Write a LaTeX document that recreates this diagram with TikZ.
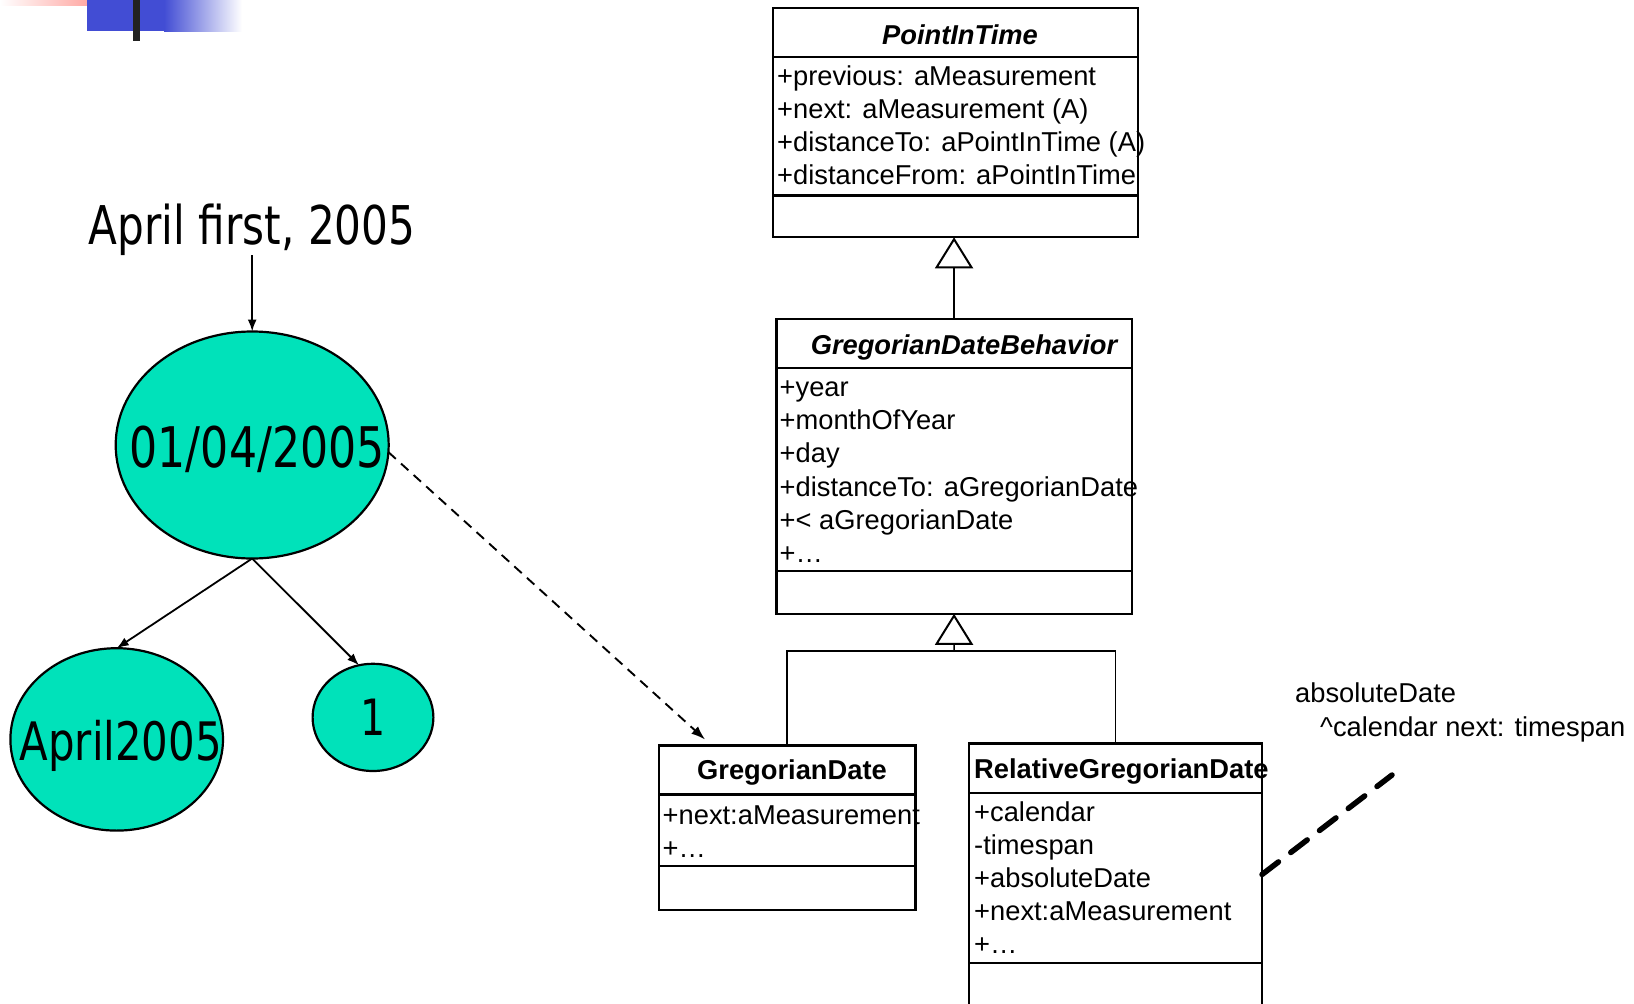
\documentclass[tikz,border=0pt]{standalone}
\usepackage{fontspec}
\usetikzlibrary{arrows.meta,shapes.geometric,calc}

\newfontfamily\umlfont{Liberation Sans}
\newfontfamily\bigfont[FakeStretch=0.79]{DejaVu Sans}

\definecolor{nodeteal}{RGB}{0,226,186}
\definecolor{slideblue}{RGB}{66,77,212}
\definecolor{slidepink}{RGB}{255,140,134}
\definecolor{slidebar}{RGB}{34,34,34}

\tikzset{
  umlbox/.style={draw=black, line width=2.2pt, rectangle, inner sep=0pt, outer sep=0pt, anchor=north west},
  sepline/.style={draw=black, line width=2.2pt},
  umltext/.style={inner sep=0pt, anchor=base west, font=\umlfont\fontsize{27.3}{33}\selectfont},
  umltitle/.style={inner sep=0pt, anchor=base, font=\umlfont\bfseries\fontsize{27.3}{33}\selectfont},
  abstitle/.style={inner sep=0pt, anchor=base, font=\umlfont\bfseries\itshape\fontsize{27.3}{33}\selectfont},
  genline/.style={draw=black, line width=1.4pt},
  genarrow/.style={genline, -{Triangle[open, length=31pt, width=38pt, line width=2pt]}},
  tealnode/.style={ellipse, draw=black, fill=nodeteal, line width=2.2pt, inner sep=0pt, outer sep=0pt},
  bigtext/.style={inner sep=0pt},
  arr/.style={draw=black, line width=1.8pt, -{Latex[length=12pt, width=9pt]}},
  dasharr/.style={draw=black, line width=1.9pt, dash pattern=on 10pt off 7pt, -{Latex[length=14pt, width=10pt]}},
  notelink/.style={draw=black, line width=5.5pt, dash pattern=on 20.7pt off 15.5pt, line cap=round},
}

\begin{document}
\begin{tikzpicture}[x=1pt, y=-1pt]
\useasboundingbox (0,0) rectangle (1634,1004);
\fill[white] (0,0) rectangle (1634,1004);

% slide ornament in the corner
\shade[left color=white, right color=slidepink] (0,0) rectangle (118,5);
\fill[slideblue] (87,0) rectangle (164,31);
\shade[left color=slideblue, right color=white] (164,0) rectangle (242,31);
\fill[slidebar] (133,0) rectangle (140,41);

% ---------------- class PointInTime ----------------
\node[umlbox, minimum width=365.3pt, minimum height=229pt] (pit) at (772.7,8.3) {};
\draw[sepline] ([yshift=-48.7pt]pit.north west) -- ([yshift=-48.7pt]pit.north east);
\draw[sepline] ([yshift=-187.2pt]pit.north west) -- ([yshift=-187.2pt]pit.north east);
\node[abstitle] (pit-t) at (960,44) {PointInTime};
\node[umltext] (pit-a1) at (777,85) {+previous: aMeasurement};
\node[umltext] (pit-a2) at (777,118.2) {+next: aMeasurement (A)};
\node[umltext] (pit-a3) at (777,151.4) {+distanceTo: aPointInTime (A)};
\node[umltext] (pit-a4) at (777,184.6) {+distanceFrom: aPointInTime};

% ---------------- class GregorianDateBehavior ----------------
\node[umlbox, minimum width=355.3pt, minimum height=294.8pt] (gdb) at (776.4,319) {};
\draw[sepline] ([yshift=-48.9pt]gdb.north west) -- ([yshift=-48.9pt]gdb.north east);
\draw[sepline] ([yshift=-252.3pt]gdb.north west) -- ([yshift=-252.3pt]gdb.north east);
\node[abstitle] (gdb-t) at (964,354.5) {GregorianDateBehavior};
\node[umltext] (gdb-a1) at (779.5,396.5) {+year};
\node[umltext] (gdb-a2) at (779.5,429.7) {+monthOfYear};
\node[umltext] (gdb-a3) at (779.5,462.9) {+day};
\node[umltext] (gdb-a4) at (779.5,496.1) {+distanceTo: aGregorianDate};
\node[umltext] (gdb-a5) at (779.5,529.3) {+\textless{} aGregorianDate};
\node[umltext] (gdb-a6) at (779.5,562.5) {+…};

% ---------------- class GregorianDate ----------------
\node[umlbox, minimum width=256.9pt, minimum height=164.2pt] (gd) at (658.6,745.5) {};
\draw[sepline] ([yshift=-49pt]gd.north west) -- ([yshift=-49pt]gd.north east);
\draw[sepline] ([yshift=-120.5pt]gd.north west) -- ([yshift=-120.5pt]gd.north east);
\node[umltitle] (gd-t) at (792,779.5) {GregorianDate};
\node[umltext] (gd-a1) at (662.5,824) {+next:aMeasurement};
\node[umltext] (gd-a2) at (662.5,857) {+…};

% ---------------- class RelativeGregorianDate ----------------
\node[umlbox, minimum width=293pt, minimum height=262pt] (rgd) at (969,743.5) {};
\draw[sepline] ([yshift=-49.5pt]rgd.north west) -- ([yshift=-49.5pt]rgd.north east);
\draw[sepline] ([yshift=-219.5pt]rgd.north west) -- ([yshift=-219.5pt]rgd.north east);
\node[umltitle, anchor=base west] (rgd-t) at (974,778.5) {RelativeGregorianDate};
\node[umltext] (rgd-a1) at (974,821) {+calendar};
\node[umltext] (rgd-a2) at (974,854.2) {-timespan};
\node[umltext] (rgd-a3) at (974,887.4) {+absoluteDate};
\node[umltext] (rgd-a4) at (974,920.6) {+next:aMeasurement};
\node[umltext] (rgd-a5) at (974,953.8) {+…};

% generalizations
\draw[genarrow] (gdb.north) -- (gdb.north |- pit.south);
\coordinate (join) at (954.05,651);
\draw[genline] (gd.north) |- (join) -| (rgd.north);
\draw[genarrow] (join) -- (gdb.south);

% note attached to RelativeGregorianDate
\node[umltext] (note1) at (1295,702.5) {absoluteDate};
\node[umltext] (note2) at (1320,736.5) {\textasciicircum calendar next: timespan};
\coordinate (notetail) at (1392,775);
\draw[notelink] (rgd.east) -- (notetail);

% ---------------- date decomposition ----------------
\node[bigtext, anchor=base, font=\bigfont\fontsize{53.4}{58}\selectfont] (datein) at (252.2,244) {April first, 2005};
\node[tealnode, minimum width=273pt, minimum height=227pt] (big) at (252.2,445) {};
\node[bigtext, font=\bigfont\fontsize{56}{60}\selectfont] (bigtxt) at ([xshift=5pt, yshift=-4.5pt]big.center) {01/04/2005};
\node[tealnode, minimum width=212.6pt, minimum height=182.4pt] (month) at (116.7,739.4) {};
\node[bigtext, text depth=0pt, font=\bigfont\fontsize{53}{58}\selectfont] (monthtxt) at ([xshift=4pt, yshift=-1pt]month.center) {April2005};
\node[tealnode, minimum width=120.8pt, minimum height=107.2pt] (day) at (373,717.4) {};
\node[bigtext, font=\bigfont\fontsize{50}{55}\selectfont] (daytxt) at (day.center) {1};

\draw[arr] (big.north |- datein.south) -- (big.north);
\draw[arr] (big.south) -- (month.north);
\draw[arr] (big.south) -- (day.105);

\coordinate (gdtip) at ([xshift=46.5pt, yshift=6pt]gd.north west);
\draw[dasharr] (big.-3) -- (gdtip);
\end{tikzpicture}
\end{document}
